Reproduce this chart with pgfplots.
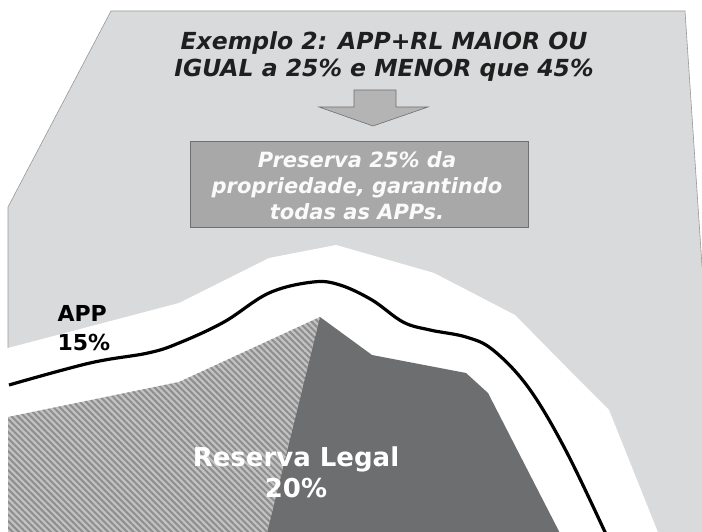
\documentclass[border=0pt]{standalone}
\usepackage{pgfplots}
\pgfplotsset{compat=1.18}
\usepackage{fontspec}
\setmainfont{DejaVu Sans}
\usetikzlibrary{patterns.meta}
\definecolor{land}{HTML}{D9DADB}
\definecolor{boxfill}{HTML}{A8A8A8}
\definecolor{boxline}{HTML}{707070}
\definecolor{arrowfill}{HTML}{B4B4B4}
\definecolor{rldark}{HTML}{6D6E70}
\definecolor{hatchbg}{HTML}{C2C2C2}
\definecolor{hatchfg}{HTML}{8E8E8E}
\begin{document}
\begin{tikzpicture}
\begin{axis}[scale only axis, width=702pt, height=532pt,
  xmin=0, xmax=702, ymin=0, ymax=532, y dir=reverse,
  hide axis, clip=true]
% background (page)
\addplot[fill=white, draw=none] coordinates {(0,0) (702,0) (702,532) (0,532)} -- cycle;
% land
\addplot[fill=land, draw=gray!80, line width=0.6pt] coordinates {(111,11) (685,11) (702,266) (715,300) (715,545) (8,545) (8,207)} -- cycle;
% white APP buffer
\addplot[fill=white, draw=none] coordinates {(0,350) (8,348) (179,303) (269,258) (336,245) (434,273) (515,315) (582,383) (609,410) (663,545) (0,545)} -- cycle;
% hatched RL
\addplot[fill=hatchbg, draw=none, postaction={pattern={Lines[angle=-45, distance=4.5pt, line width=2pt]}, pattern color=hatchfg}] coordinates {(8,417) (179,382) (320,317) (264,545) (8,545)} -- cycle;
% dark RL
\addplot[fill=rldark, draw=none] coordinates {(320,317) (372,355) (466,373) (488,393) (566,545) (264,545)} -- cycle;
% river line
\addplot[black, line width=3.2pt, smooth, tension=0.6] coordinates {(9,385) (90,363) (148,353) (179,343) (224,322) (269,293) (313,282) (340,285) (372,300) (403,322) (430,330) (466,337) (493,350) (528,387) (564,447) (605,532) (610,545)};
% arrow
\addplot[fill=arrowfill, draw=boxline, line width=0.6pt] coordinates {(354,90) (396,90) (396,107) (428,107) (373,126) (319,107) (354,107)} -- cycle;
% box
\addplot[fill=boxfill, draw=boxline, line width=1pt] coordinates {(190,142) (528,142) (528,227) (190,227)} -- cycle;
\node[align=center, font=\fontsize{23.5}{27}\selectfont\bfseries\itshape, text=black!88] at (axis cs:384,57) {Exemplo 2: APP+RL MAIOR OU\\IGUAL a 25\% e MENOR que 45\%};
\node[align=center, font=\fontsize{21}{26}\selectfont\bfseries\itshape, text=white!96!gray] at (axis cs:357,186) {Preserva 25\% da\\propriedade, garantindo\\todas as APPs.};
\node[align=left, anchor=west, font=\fontsize{22}{29}\selectfont\bfseries, text=black] at (axis cs:54,328) {APP\\15\%};
\node[align=center, font=\fontsize{26}{31}\selectfont\bfseries, text=white] at (axis cs:296,472) {Reserva Legal\\20\%};
\end{axis}
\end{tikzpicture}
\end{document}
